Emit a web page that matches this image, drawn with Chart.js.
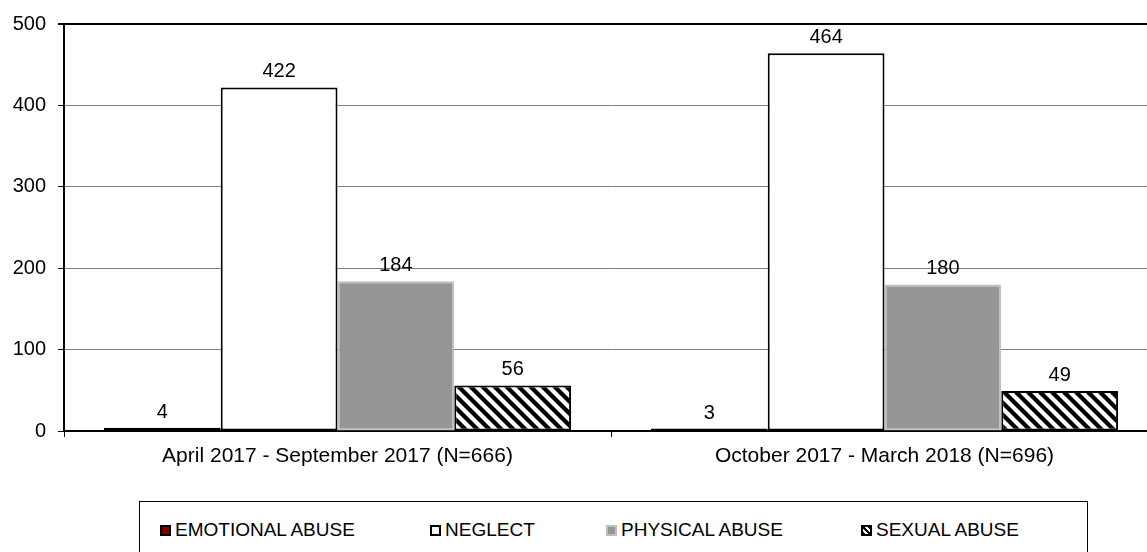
<!DOCTYPE html>
<html>
<head>
<meta charset="utf-8">
<script src="https://cdn.jsdelivr.net/npm/chart.js@4"></script>
<style>
  html, body { margin: 0; padding: 0; background: #fff; }
  #wrap { position: relative; width: 1147px; height: 552px; overflow: hidden; }
  #legend {
    position: absolute; left: 139px; top: 501px; width: 947px; height: 70px;
    border: 1px solid #000; background: #fff;
    font-family: "Liberation Sans", Arial, sans-serif; font-size: 19px; color: #000;
  }
  .item { position: absolute; top: 17px; display: flex; align-items: center; white-space: nowrap; }
  .mark { width: 11px; height: 11px; box-sizing: border-box; border: 2px solid #000; margin-right: 4px; }
</style>
</head>
<body>
<div id="wrap">
  <canvas id="chart" width="1170" height="552"></canvas>
  <div id="legend"></div>
</div>
<script>
// Data
const categories = ["April 2017 - September 2017 (N=666)", "October 2017 - March 2018 (N=696)"];
const seriesNames = ["EMOTIONAL ABUSE", "NEGLECT", "PHYSICAL ABUSE", "SEXUAL ABUSE"];
const emotionalAbuse = [4, 3];
const neglect = [422, 464];
const physicalAbuse = [184, 180];
const sexualAbuse = [56, 49];
const yTicks = [0, 100, 200, 300, 400, 500];

const FONT = "'Liberation Sans', Arial, sans-serif";

// Hatch pattern for sexual abuse bars
function makeHatch() {
  const p = 12;
  const c = document.createElement("canvas");
  c.width = p;
  c.height = p;
  const g = c.getContext("2d");
  g.fillStyle = "#fff";
  g.fillRect(0, 0, p, p);
  g.strokeStyle = "#000";
  g.lineWidth = 4.3;
  for (let k = -1; k <= 1; k++) {
    g.beginPath();
    g.moveTo(k * p - p, -p);
    g.lineTo(k * p + 2 * p, 2 * p);
    g.stroke();
  }
  return g.createPattern(c, "repeat");
}
const hatch = makeHatch();

const seriesStyles = [
  { bg: "#800000", border: "#000" },
  { bg: "#ffffff", border: "#000" },
  { bg: "#969696", border: "#c0c0c0" },
  { bg: hatch, border: "#000" }
];
const seriesData = [emotionalAbuse, neglect, physicalAbuse, sexualAbuse];

const datasets = seriesNames.map((name, i) => ({
  label: name,
  data: seriesData[i],
  backgroundColor: seriesStyles[i].bg,
  borderColor: seriesStyles[i].border,
  borderWidth: 2,
  borderSkipped: false,
  categoryPercentage: 0.854,
  barPercentage: 1
}));

// Value labels above bars
const valueLabels = {
  id: "valueLabels",
  afterDatasetsDraw(chart) {
    const ctx = chart.ctx;
    ctx.save();
    ctx.font = "20px " + FONT;
    ctx.fillStyle = "#000";
    ctx.textAlign = "center";
    ctx.textBaseline = "alphabetic";
    chart.data.datasets.forEach((ds, i) => {
      chart.getDatasetMeta(i).data.forEach((bar, j) => {
        ctx.fillText(ds.data[j], bar.x, bar.y - 10);
      });
    });
    ctx.restore();
  }
};

new Chart(document.getElementById("chart"), {
  type: "bar",
  data: { labels: categories, datasets: datasets },
  options: {
    responsive: false,
    animation: false,
    devicePixelRatio: 1,
    layout: { padding: { top: 22, right: 12, left: 0, bottom: 0 } },
    plugins: { legend: { display: false }, tooltip: { enabled: false } },
    scales: {
      x: {
        offset: true,
        grid: { offset: true, drawOnChartArea: false, drawTicks: true, tickLength: 6, color: "#000" },
        border: { color: "#000", width: 2 },
        ticks: { color: "#000", padding: 7, font: { family: FONT, size: 21 }, maxRotation: 0 },
        afterFit(scale) { scale.height = 121; }
      },
      y: {
        min: 0,
        max: 500,
        afterBuildTicks(scale) { scale.ticks = yTicks.map(v => ({ value: v })); },
        grid: {
          color: c => (c.tick && (c.tick.value === 500 || c.tick.value === 0)) ? "#000" : "#808080",
          lineWidth: c => (c.tick && c.tick.value === 500) ? 2 : 1,
          tickColor: "#000",
          tickLength: 6
        },
        border: { color: "#000", width: 2 },
        ticks: { color: "#000", padding: 12, font: { family: FONT, size: 20 } },
        afterFit(scale) { scale.width = 64; }
      }
    }
  },
  plugins: [valueLabels]
});

// Legend
const legendLeft = [20, 290, 466, 721];
const legendMarks = [
  "background:#800000;",
  "background:#fff;",
  "background:#969696;border-color:#bdbdbd;",
  "background:repeating-linear-gradient(45deg,#000 0 2px,#fff 2px 4px);"
];
const legend = document.getElementById("legend");
seriesNames.forEach((name, i) => {
  legend.innerHTML += `
    <div class="item" style="left:${legendLeft[i]}px">
      <span class="mark" style="${legendMarks[i]}"></span>${name}
    </div>`;
});
</script>
</body>
</html>
